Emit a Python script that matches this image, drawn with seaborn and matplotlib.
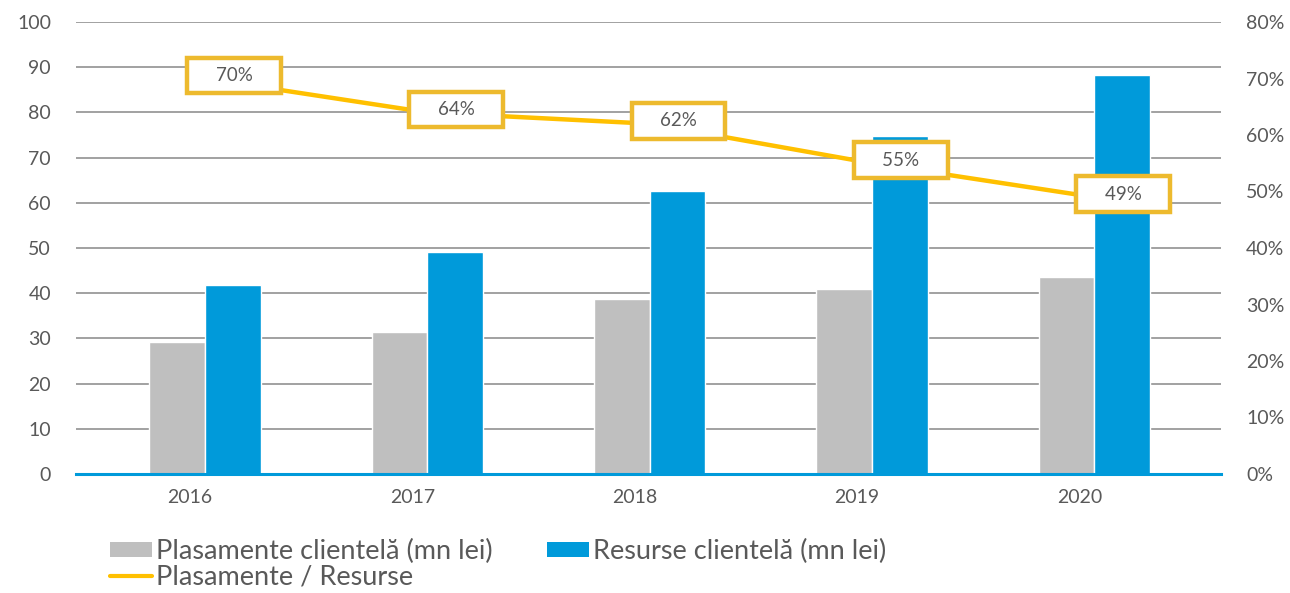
import matplotlib
matplotlib.use("Agg")
import matplotlib.pyplot as plt
import matplotlib.transforms as mtransforms
import seaborn as sns
import pandas as pd
from matplotlib.patches import Patch
from matplotlib.lines import Line2D

years = ["2016", "2017", "2018", "2019", "2020"]
plasamente = [29.3, 31.5, 38.8, 41.0, 43.5]
resurse = [41.8, 49.1, 62.5, 74.8, 88.2]
raport = [0.70, 0.64, 0.62, 0.55, 0.49]
raport_labels = ["70%", "64%", "62%", "55%", "49%"]
left_ticks = [0, 10, 20, 30, 40, 50, 60, 70, 80, 90, 100]
right_ticks = [0, 0.1, 0.2, 0.3, 0.4, 0.5, 0.6, 0.7, 0.8]
right_tick_labels = ["0%", "10%", "20%", "30%", "40%", "50%", "60%", "70%", "80%"]
name_p = "Plasamente clientelă (mn lei)"
name_r = "Resurse clientelă (mn lei)"
name_l = "Plasamente / Resurse"

grey = "#BFBFBF"
blue = "#009ADA"
gold = "#FFC000"
box_gold = "#EDBA2E"
txt = "#595959"

sns.set_theme(style="white")
plt.rcParams["font.family"] = ["Lato", "DejaVu Sans"]

df = pd.DataFrame({
    "year": years * 2,
    "value": plasamente + resurse,
    "series": [name_p] * len(years) + [name_r] * len(years),
})

fig = plt.figure(figsize=(12.9, 5.93), dpi=100)
ax = fig.add_axes([76 / 1290, 1 - 474 / 593, (1221 - 76) / 1290, (474 - 22) / 593])

sns.barplot(data=df, x="year", y="value", hue="series", order=years,
            palette=[grey, blue], width=0.5, ax=ax, legend=False,
            saturation=1, zorder=2)

ax.set_ylim(0, 100)
ax.set_yticks(left_ticks)
ax.set_xlim(-0.58, 4.57)
ax.grid(axis="y", color="#878787", lw=1.1, zorder=0)
ax.set_axisbelow(True)
for s in ["top", "left", "right"]:
    ax.spines[s].set_visible(False)
ax.spines["bottom"].set_color(blue)
ax.spines["bottom"].set_linewidth(2.2)
ax.spines["bottom"].set_zorder(3)
ax.set_xlabel("")
ax.set_ylabel("")
ax.tick_params(axis="y", length=0, pad=18, labelsize=14, labelcolor=txt)
ax.tick_params(axis="x", length=0, pad=11, labelsize=14, labelcolor=txt)
shift = mtransforms.ScaledTranslation(-15 / 100, 0, fig.dpi_scale_trans)
for lab in ax.get_xticklabels():
    lab.set_transform(lab.get_transform() + shift)

ax2 = ax.twinx()
ldf = pd.DataFrame({"year": years, "ratio": raport})
sns.lineplot(data=ldf, x="year", y="ratio", color=gold, lw=3.2, ax=ax2,
             legend=False, zorder=4)
ax2.set_ylim(0, 0.8)
ax2.set_yticks(right_ticks)
ax2.set_yticklabels(right_tick_labels)
ax2.set_xlim(-0.58, 4.57)
ax2.set_ylabel("")
ax2.set_xlabel("")
for s in ax2.spines.values():
    s.set_visible(False)
ax2.tick_params(axis="y", length=0, pad=18, labelsize=14, labelcolor=txt)

for i, (v, lab) in enumerate(zip(raport, raport_labels)):
    ax2.annotate("    " + lab + "    ", (i, v), xytext=(29, 3),
                 textcoords="offset pixels", ha="center", va="center",
                 fontsize=13.5, color=txt, zorder=6,
                 bbox=dict(boxstyle="square,pad=0.5", fc="white",
                           ec=box_gold, lw=3.2))

handles = [
    Patch(facecolor=grey, edgecolor="none"),
    Line2D([0], [0], color=gold, lw=3),
    Patch(facecolor=blue, edgecolor="none"),
]
labels = [name_p, name_l, name_r]
leg = fig.legend(handles, labels, ncol=2, loc="upper left",
                 bbox_to_anchor=(110 / 1290, 1 - 539 / 593), frameon=False,
                 fontsize=19.5, handlelength=1.55, handleheight=0.5,
                 handletextpad=0.15, columnspacing=2.0, labelspacing=0.02,
                 borderpad=0, borderaxespad=0)
for t in leg.get_texts():
    t.set_color(txt)

fig.savefig("out.png", dpi=100)
